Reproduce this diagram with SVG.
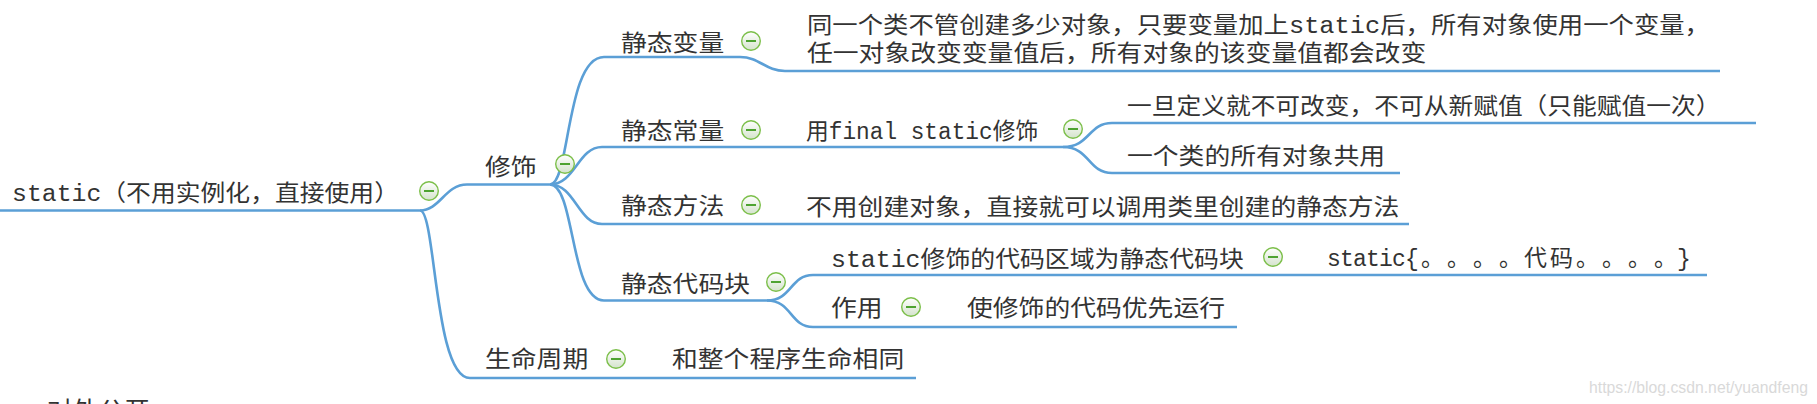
<svg xmlns="http://www.w3.org/2000/svg" width="1817" height="404" viewBox="0 0 1817 404">
<style>
.t{font-family:"Liberation Mono","Noto Sans CJK SC",monospace;font-size:23px;fill:#333;}
.c{fill:none;stroke:#5b9fd6;stroke-width:2.6;}
.ic circle{fill:url(#g);stroke:#7cbf4a;stroke-width:1.4;}
.ic line{stroke:#3d9a1c;stroke-width:1.8;}
.wm{font-family:"Liberation Sans",Arial,sans-serif;font-size:17px;fill:#d9d9d9;}
</style>
<defs>
<linearGradient id="g" x1="0" y1="0" x2="0" y2="1">
<stop offset="0" stop-color="#ffffff"/>
<stop offset="1" stop-color="#d4e3cc"/>
</linearGradient>
<g id="minus" class="ic"><circle cx="0" cy="0" r="9.3"/><line x1="-5" y1="0" x2="5" y2="0"/></g>
</defs>

<g id="connectors">
<path class="c" d="M0,210.5 H420"/>
<path class="c" d="M420,210.5 C440,210.5 445,184.5 467,184.5 H550"/>
<path class="c" d="M420,210.5 C436,210.5 434,378 470,378 H916"/>
<path class="c" d="M550,184.5 C570,184.5 566,57 604,57 H740 C760,57 765,71 785,71 H1720"/>
<path class="c" d="M550,184.5 C575,184.5 578,147 602,147 H1063"/>
<path class="c" d="M550,184.5 C575,184.5 578,224 602,224 H1409"/>
<path class="c" d="M550,184.5 C575,184.5 570,300.5 604,300.5 H767"/>
<path class="c" d="M1063,147 C1090,147 1088,123 1112,123 H1756"/>
<path class="c" d="M1063,147 C1090,147 1088,173 1112,173 H1400"/>
<path class="c" d="M767,300.5 C792,300.5 790,275 813,275 H1707"/>
<path class="c" d="M767,300.5 C792,300.5 790,327 813,327 H1237"/>
</g>

<g id="node-root">
<text class="t" x="12" y="200.5" textLength="387" lengthAdjust="spacingAndGlyphs">static（不用实例化，直接使用）</text>
<use href="#minus" x="429" y="191"/>
</g>
<g id="node-xiushi">
<text class="t" x="485" y="174.5" textLength="51.6" lengthAdjust="spacingAndGlyphs">修饰</text>
<use href="#minus" x="565" y="164"/>
</g>
<g id="node-shengming">
<text class="t" x="485" y="366.5" textLength="103.2" lengthAdjust="spacingAndGlyphs">生命周期</text>
<use href="#minus" x="616" y="359"/>
</g>
<g id="node-shengming-desc">
<text class="t" x="672" y="366.5" textLength="232.2" lengthAdjust="spacingAndGlyphs">和整个程序生命相同</text>
</g>
<g id="node-jtbl">
<text class="t" x="621" y="50.5" textLength="103.2" lengthAdjust="spacingAndGlyphs">静态变量</text>
<use href="#minus" x="751" y="41"/>
</g>
<g id="node-jtbl-desc">
<text class="t" x="807" y="32.5" textLength="903" lengthAdjust="spacingAndGlyphs">同一个类不管创建多少对象，只要变量加上static后，所有对象使用一个变量，</text>
<text class="t" x="807" y="61" textLength="619.2" lengthAdjust="spacingAndGlyphs">任一对象改变变量值后，所有对象的该变量值都会改变</text>
</g>
<g id="node-jtcl">
<text class="t" x="621" y="138.5" textLength="103.2" lengthAdjust="spacingAndGlyphs">静态常量</text>
<use href="#minus" x="751" y="130"/>
</g>
<g id="node-final">
<text class="t" x="806" y="138.5" textLength="232.2" lengthAdjust="spacingAndGlyphs">用final static修饰</text>
<use href="#minus" x="1073" y="129"/>
</g>
<g id="node-final-1">
<text class="t" x="1127" y="113.5" textLength="593.4" lengthAdjust="spacingAndGlyphs">一旦定义就不可改变，不可从新赋值（只能赋值一次）</text>
</g>
<g id="node-final-2">
<text class="t" x="1127" y="163.5" textLength="258" lengthAdjust="spacingAndGlyphs">一个类的所有对象共用</text>
</g>
<g id="node-jtff">
<text class="t" x="621" y="213.5" textLength="103.2" lengthAdjust="spacingAndGlyphs">静态方法</text>
<use href="#minus" x="751" y="205"/>
</g>
<g id="node-jtff-desc">
<text class="t" x="806" y="214.5" textLength="593.4" lengthAdjust="spacingAndGlyphs">不用创建对象，直接就可以调用类里创建的静态方法</text>
</g>
<g id="node-jtdmk">
<text class="t" x="621" y="291.5" textLength="129" lengthAdjust="spacingAndGlyphs">静态代码块</text>
<use href="#minus" x="776" y="282"/>
</g>
<g id="node-dmk-1">
<text class="t" x="831" y="267" textLength="412.8" lengthAdjust="spacingAndGlyphs">static修饰的代码区域为静态代码块</text>
<use href="#minus" x="1273" y="257"/>
</g>
<g id="node-dmk-1a">
<text class="t" y="266"><tspan x="1327 1340 1353 1366 1379 1392 1405">static{</tspan><tspan x="1421 1447 1473 1499 1524 1550 1576 1602 1628 1654">。。。。代码。。。。</tspan><tspan x="1677">}</tspan></text>
</g>
<g id="node-dmk-2">
<text class="t" x="831" y="315.5" textLength="51.6" lengthAdjust="spacingAndGlyphs">作用</text>
<use href="#minus" x="911" y="307"/>
</g>
<g id="node-dmk-2a">
<text class="t" x="967" y="315.5" textLength="258" lengthAdjust="spacingAndGlyphs">使修饰的代码优先运行</text>
</g>
<g id="node-duiwai">
<text class="t" x="47" y="418" textLength="103" lengthAdjust="spacingAndGlyphs">对外公开</text>
</g>
<text class="wm" x="1589" y="393" textLength="219" lengthAdjust="spacingAndGlyphs">https://blog.csdn.net/yuandfeng</text>
</svg>
